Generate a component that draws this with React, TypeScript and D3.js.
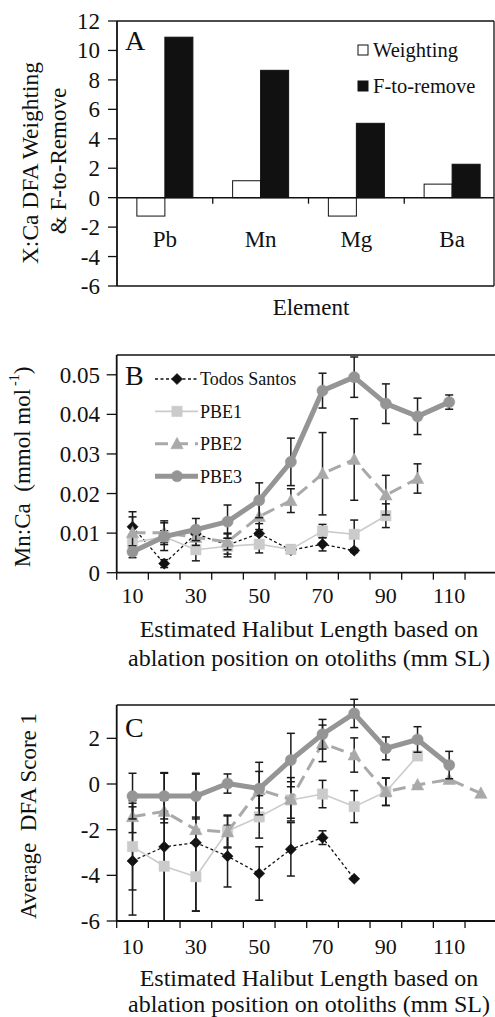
import React from "react";
import * as d3 from "d3";

// ---------- Panel A data ----------
const elements = ["Pb", "Mn", "Mg", "Ba"];
const weighting = [-1.25, 1.15, -1.25, 0.92];
const fToRemove = [10.9, 8.65, 5.05, 2.27];
const aTicks = [-6, -4, -2, 0, 2, 4, 6, 8, 10, 12];

// ---------- Shared x categories ----------
const lengthCats = [10, 20, 30, 40, 50, 60, 70, 80, 90, 100, 110, 120];
const lengthLabels = [10, 30, 50, 70, 90, 110];
const seriesNames = ["Todos Santos", "PBE1", "PBE2", "PBE3"];

// ---------- Panel B data (Mn:Ca) ----------
const mnTicks = [0, 0.01, 0.02, 0.03, 0.04, 0.05];
const mnTodos = [0.0116, 0.0023, 0.0098, 0.007, 0.0099, 0.0057, 0.0072, 0.0056];
const mnTodosErr = [0.0038, 0.001, 0.0015, 0.003, 0.0025, 0.0008, 0.0017, 0.0005];
const mnPBE1 = [0.0076, 0.0091, 0.0058, 0.0067, 0.0072, 0.0059, 0.0105, 0.0097, 0.0144];
const mnPBE1Err = [0.002, 0.0015, 0.0028, 0.002, 0.0022, 0.001, 0.0017, 0.0036, 0.003];
const mnPBE2 = [0.0101, 0.0101, 0.0089, 0.0078, 0.0142, 0.0182, 0.025, 0.0286, 0.0196, 0.0238];
const mnPBE2Err = [0.004, 0.003, 0.002, 0.002, 0.0033, 0.003, 0.0104, 0.0103, 0.005, 0.0037];
const mnPBE3 = [0.0053, 0.0091, 0.0109, 0.0129, 0.0183, 0.028, 0.046, 0.0494, 0.0427, 0.0395, 0.0431];
const mnPBE3Err = [0.0015, 0.0035, 0.0028, 0.0042, 0.0044, 0.006, 0.0044, 0.0051, 0.005, 0.0046, 0.0018];

// ---------- Panel C data (DFA score) ----------
const dfaTicks = [-6, -4, -2, 0, 2];
const dfaTodos = [-3.37, -2.75, -2.57, -3.16, -3.92, -2.86, -2.35, -4.15];
const dfaTodosErr = [2.37, 3.25, 3.0, 1.35, 1.17, 1.17, 0.3, 0];
const dfaPBE1 = [-2.74, -3.6, -4.06, -2.06, -1.44, -0.7, -0.44, -0.99, -0.34, 1.23];
const dfaPBE1Err = [1.9, 2.4, 1.5, 0.7, 0.93, 0.8, 0.6, 0.7, 0.6, 0];
const dfaPBE2 = [-1.43, -1.2, -2.0, -2.1, -0.25, -0.67, 1.78, 1.27, -0.34, -0.04, 0.2, -0.41];
const dfaPBE2Err = [0.7, 0.5, 0.55, 0.7, 0.8, 0.95, 0.8, 0.75, 0.6, 0, 0, 0];
const dfaPBE3 = [-0.53, -0.53, -0.53, 0.02, -0.2, 1.05, 2.18, 3.09, 1.56, 1.95, 0.83];
const dfaPBE3Err = [1.0, 1.0, 1.0, 0.42, 1.15, 1.17, 0.65, 0.62, 0.5, 0.56, 0.6];

const FONT = "'Liberation Serif', 'Times New Roman', serif";

const STY = [
  { stroke: "#111", width: 1.3, dash: "3,2.5", marker: "diamond", fill: "#111" },
  { stroke: "#cbcbcb", width: 1.6, dash: undefined, marker: "square", fill: "#cbcbcb" },
  { stroke: "#a9a9a9", width: 3, dash: "13,7", marker: "triangle", fill: "#a9a9a9" },
  { stroke: "#959595", width: 5, dash: undefined, marker: "circle", fill: "#959595" },
];

function markerPath(kind: string, x: number, y: number): string {
  if (kind === "diamond") {
    const r = 5.6;
    return `M${x},${y - r}L${x + r},${y}L${x},${y + r}L${x - r},${y}Z`;
  }
  if (kind === "square") {
    const r = 5.2;
    return `M${x - r},${y - r}H${x + r}V${y + r}H${x - r}Z`;
  }
  if (kind === "triangle") {
    return `M${x},${y - 6.5}L${x + 6.2},${y + 5}L${x - 6.2},${y + 5}Z`;
  }
  const p = d3.path();
  p.arc(x, y, 5.6, 0, Math.PI * 2);
  return p.toString();
}

function PanelA() {
  const left = 117, right = 500, top = 21, bottom = 286;
  const y = d3.scaleLinear().domain([-6, 12]).range([bottom, top]);
  const x = d3.scaleBand<string>().domain(elements).range([left, right]).paddingInner(0.415).paddingOuter(0.2075);
  const sub = d3.scaleBand<string>().domain(["w", "f"]).range([0, x.bandwidth()]);
  const y0 = y(0);
  const step = x.step();
  return (
    <g>
      {/* box */}
      <line x1={left} x2={494} y1={top} y2={top} stroke="#111" strokeWidth={1.3} />
      <line x1={494} x2={494} y1={top} y2={bottom} stroke="#111" strokeWidth={1.3} />
      <line x1={left} x2={494} y1={bottom} y2={bottom} stroke="#111" strokeWidth={1.6} />
      {/* bars */}
      {elements.map((e, i) => {
        const bx = x(e)!;
        const wv = weighting[i];
        const fv = fToRemove[i];
        return (
          <g key={e}>
            <rect x={bx + sub("w")!} width={sub.bandwidth()} y={Math.min(y(wv), y0)} height={Math.abs(y(wv) - y0)} fill="#fff" stroke="#111" strokeWidth={1} />
            <rect x={bx + sub("f")!} width={sub.bandwidth()} y={Math.min(y(fv), y0)} height={Math.abs(y(fv) - y0)} fill="#111" stroke="#111" strokeWidth={1} />
          </g>
        );
      })}
      {/* x axis at zero */}
      <line x1={left} x2={494} y1={y0} y2={y0} stroke="#111" strokeWidth={1.5} />
      {elements.map((e, i) =>
        i > 0 ? <line key={"t" + e} x1={left + i * step} x2={left + i * step} y1={y0} y2={y0 + 6} stroke="#111" strokeWidth={1.3} /> : null
      )}
      {elements.map((e) => (
        <text key={"l" + e} x={x(e)! + x.bandwidth() / 2} y={247} fontSize={23} textAnchor="middle" fontFamily={FONT} fill="#111">{e}</text>
      ))}
      {/* y axis */}
      <line x1={left} x2={left} y1={top} y2={bottom} stroke="#111" strokeWidth={1.8} />
      {aTicks.map((t) => (
        <g key={t}>
          <line x1={left - 9} x2={left} y1={y(t)} y2={y(t)} stroke="#111" strokeWidth={1.3} />
          <text x={100} y={y(t)} dy="0.35em" fontSize={23} textAnchor="end" fontFamily={FONT} fill="#111">{t}</text>
        </g>
      ))}
      <text x={125} y={50} fontSize={28} fontFamily={FONT} fill="#111">A</text>
      {/* legend */}
      <rect x={358} y={45} width={10} height={10} fill="#fff" stroke="#111" strokeWidth={1} />
      <text x={373} y={57} fontSize={20.5} fontFamily={FONT} fill="#111">Weighting</text>
      <rect x={358} y={81} width={10} height={10} fill="#111" stroke="#111" strokeWidth={1} />
      <text x={373} y={93} fontSize={20.5} fontFamily={FONT} fill="#111">F-to-remove</text>
      {/* titles */}
      <text x={311} y={315} fontSize={23} textAnchor="middle" fontFamily={FONT} fill="#111">Element</text>
      <text transform="translate(30,163) rotate(-90)" fontSize={23.5} textAnchor="middle" dominantBaseline="central" fontFamily={FONT} fill="#111">X:Ca DFA Weighting</text>
      <text transform="translate(58,161) rotate(-90)" fontSize={23} textAnchor="middle" dominantBaseline="central" fontFamily={FONT} fill="#111">&amp; F-to-Remove</text>
    </g>
  );
}

type LinePanelProps = {
  top: number;
  bottom: number;
  domain: [number, number];
  ticks: number[];
  fmt: (v: number) => string;
  values: number[][];
  errors: number[][];
  letter: string;
  letterY: number;
  tickLabelY: number;
  titleY1: number;
  titleY2: number;
  yLabel: React.ReactNode;
  yLabelX: number;
  legend: boolean;
};

function LinePanel(p: LinePanelProps) {
  const left = 116.7, right = 496.7;
  const x = d3.scaleBand<number>().domain(lengthCats).range([left, right]);
  const cx = (c: number) => x(c)! + x.bandwidth() / 2;
  const y = d3.scaleLinear().domain(p.domain).range([p.bottom, p.top]);
  const capW = 4;
  return (
    <g>
      <line x1={left} x2={right} y1={p.top} y2={p.top} stroke="#111" strokeWidth={1.3} />
      {/* series */}
      {p.values.map((vals, si) => {
        const st = STY[si];
        const pts: [number, number][] = vals.map((v, i) => [cx(lengthCats[i]), y(v)]);
        const line = d3.line()(pts) || "";
        return (
          <g key={si}>
            {vals.map((v, i) => {
              const e = p.errors[si][i];
              if (!e) return null;
              const xx = cx(lengthCats[i]);
              const y1 = y(v + e), y2 = y(v - e);
              return (
                <g key={i} stroke="#1a1a1a" strokeWidth={1.5}>
                  <line x1={xx} x2={xx} y1={y1} y2={y2} />
                  <line x1={xx - capW} x2={xx + capW} y1={y1} y2={y1} />
                  <line x1={xx - capW} x2={xx + capW} y1={y2} y2={y2} />
                </g>
              );
            })}
            <path d={line} fill="none" stroke={st.stroke} strokeWidth={st.width} strokeDasharray={st.dash} strokeLinejoin="round" />
            {pts.map(([px, py], i) => (
              <path key={"m" + i} d={markerPath(st.marker, px, py)} fill={st.fill} stroke={st.fill} strokeWidth={0.5} />
            ))}
          </g>
        );
      })}
      {/* axes */}
      <line x1={left} x2={right} y1={p.bottom} y2={p.bottom} stroke="#111" strokeWidth={1.8} />
      <line x1={left} x2={left} y1={p.top} y2={p.bottom} stroke="#111" strokeWidth={1.8} />
      {lengthCats.map((c) => (
        <line key={"xt" + c} x1={x(c)!} x2={x(c)!} y1={p.bottom} y2={p.bottom + 7} stroke="#111" strokeWidth={1.3} />
      ))}
      {lengthLabels.map((c) => (
        <text key={"xl" + c} x={cx(c)} y={p.tickLabelY} fontSize={22} textAnchor="middle" fontFamily={FONT} fill="#111">{c}</text>
      ))}
      {p.ticks.map((t) => (
        <g key={"yt" + t}>
          <line x1={left - 10} x2={left} y1={y(t)} y2={y(t)} stroke="#111" strokeWidth={1.3} />
          <text x={100} y={y(t)} dy="0.35em" fontSize={23} textAnchor="end" fontFamily={FONT} fill="#111">{p.fmt(t)}</text>
        </g>
      ))}
      <text x={125} y={p.letterY} fontSize={28} fontFamily={FONT} fill="#111">{p.letter}</text>
      <text x={309} y={p.titleY1} fontSize={24} textAnchor="middle" fontFamily={FONT} fill="#111">Estimated Halibut Length based on</text>
      <text x={309} y={p.titleY2} fontSize={24} textAnchor="middle" fontFamily={FONT} fill="#111">ablation position on otoliths (mm SL)</text>
      <text transform={`translate(${p.yLabelX},${(p.top + p.bottom) / 2 + 3}) rotate(-90)`} fontSize={23} textAnchor="middle" dominantBaseline="central" fontFamily={FONT} fill="#111" style={{ whiteSpace: "pre" }}>{p.yLabel}</text>
      {p.legend &&
        seriesNames.map((n, i) => {
          const st = STY[i];
          const ly = 379 + i * 32.4;
          return (
            <g key={"lg" + n}>
              <line x1={155} x2={198} y1={ly} y2={ly} stroke={st.stroke} strokeWidth={st.width} strokeDasharray={st.dash} />
              <path d={markerPath(st.marker, 177, ly)} fill={st.fill} stroke={st.fill} strokeWidth={0.5} />
              <text x={200} y={ly} dy="0.35em" fontSize={18} fontFamily={FONT} fill="#111">{n}</text>
            </g>
          );
        })}
    </g>
  );
}

export default function App() {
  const fmtMn = (v: number) => (v === 0 ? "0" : d3.format(".2f")(v));
  const fmtD = (v: number) => String(v);
  return (
    <svg width={495} height={1017} style={{ position: "absolute", left: 0, top: 0, background: "#fff" }}>
      <rect width={495} height={1017} fill="#fff" />
      <PanelA />
      <LinePanel
        top={355}
        bottom={572.7}
        domain={[0, 0.055]}
        ticks={mnTicks}
        fmt={fmtMn}
        values={[mnTodos, mnPBE1, mnPBE2, mnPBE3]}
        errors={[mnTodosErr, mnPBE1Err, mnPBE2Err, mnPBE3Err]}
        letter="B"
        letterY={385}
        tickLabelY={603}
        titleY1={637}
        titleY2={666}
        yLabelX={22}
        yLabel={<>Mn:Ca  (mmol mol<tspan dx={3} baselineShift="super" fontSize={14}>-1</tspan>)</>}
        legend={true}
      />
      <LinePanel
        top={705}
        bottom={921}
        domain={[-6, 3.46]}
        ticks={dfaTicks}
        fmt={fmtD}
        values={[dfaTodos, dfaPBE1, dfaPBE2, dfaPBE3]}
        errors={[dfaTodosErr, dfaPBE1Err, dfaPBE2Err, dfaPBE3Err]}
        letter="C"
        letterY={737}
        tickLabelY={954}
        titleY1={986}
        titleY2={1012}
        yLabelX={28}
        yLabel={<>Average  DFA Score 1</>}
        legend={false}
      />
    </svg>
  );
}
